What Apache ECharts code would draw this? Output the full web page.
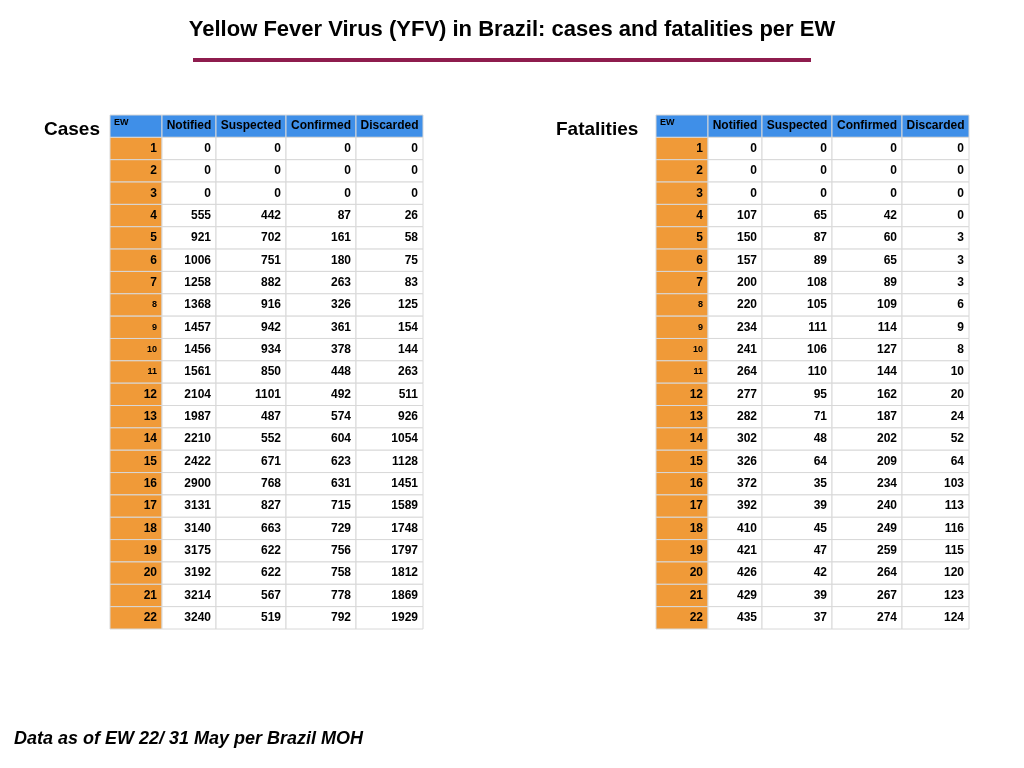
<!DOCTYPE html>
<html><head><meta charset="utf-8">
<script src="https://cdn.jsdelivr.net/npm/echarts@6/dist/echarts.min.js"></script>
<style>html,body{margin:0;background:#fff}#c{width:1024px;height:768px}</style>
</head><body><div id="c"></div>
<script>
const headers = ['EW','Notified','Suspected','Confirmed','Discarded'];
const weeks = [1,2,3,4,5,6,7,8,9,10,11,12,13,14,15,16,17,18,19,20,21,22];
const casesNotified  = [0,0,0,555,921,1006,1258,1368,1457,1456,1561,2104,1987,2210,2422,2900,3131,3140,3175,3192,3214,3240];
const casesSuspected = [0,0,0,442,702,751,882,916,942,934,850,1101,487,552,671,768,827,663,622,622,567,519];
const casesConfirmed = [0,0,0,87,161,180,263,326,361,378,448,492,574,604,623,631,715,729,756,758,778,792];
const casesDiscarded = [0,0,0,26,58,75,83,125,154,144,263,511,926,1054,1128,1451,1589,1748,1797,1812,1869,1929];
const fatNotified  = [0,0,0,107,150,157,200,220,234,241,264,277,282,302,326,372,392,410,421,426,429,435];
const fatSuspected = [0,0,0,65,87,89,108,105,111,106,110,95,71,48,64,35,39,45,47,42,39,37];
const fatConfirmed = [0,0,0,42,60,65,89,109,114,127,144,162,187,202,209,234,240,249,259,264,267,274];
const fatDiscarded = [0,0,0,0,3,3,3,6,9,8,10,20,24,52,64,103,113,116,115,120,123,124];

function cells(cols){
  const d=[];
  headers.forEach((h,c)=>d.push([c,0,h]));
  weeks.forEach((w,r)=>{
    d.push([0,r+1,String(w)]);
    cols.forEach((arr,c)=>d.push([c+1,r+1,String(arr[r])]));
  });
  return d;
}
const edges=[0,52,106,176,246,313];
function render(params,api){
  const c=api.value(0), r=api.value(1), t=params.dataIndex;
  const p0=api.coord([edges[c],r]), p1=api.coord([edges[c+1],r+1]);
  const x=p0[0],y=p0[1],w=p1[0]-p0[0],h=p1[1]-p0[1];
  const txt=api.value(2);
  let fill='#fff';
  if(r===0) fill='#3f8fe8'; else if(c===0) fill='#f09a38';
  const small = (r===0&&c===0) || (c===0 && r>=8 && r<=11);
  return {type:'group',children:[
    {type:'rect',shape:{x,y,width:w,height:h},style:{fill,stroke:'#d8d8d8',lineWidth:1}},
    {type:'text',style:{text:txt,x:(r===0&&c===0)?x+4:(r===0?x+w/2:x+w-5),y:(r===0&&c===0)?y+8:y+h/2,
      align:(r===0&&c===0)?'left':(r===0?'center':'right'),verticalAlign:'middle',
      font:'bold '+(small?'9px':'12px')+' "Liberation Sans", Arial, sans-serif',fill:'#000'}}
  ]};
}
const chart=echarts.init(document.getElementById('c'));
const grids=[{left:110,top:115,width:313,height:514},{left:656,top:115,width:313,height:514}];
chart.setOption({
  animation:false,
  title:{text:'Yellow Fever Virus (YFV) in Brazil: cases and fatalities per EW',left:'center',top:14,
    textStyle:{fontSize:22,fontWeight:'bold',color:'#000',fontFamily:'"Liberation Sans", Arial'}},
  grid:grids,
  xAxis:grids.map((g,i)=>({type:'value',gridIndex:i,min:0,max:313,show:false})),
  yAxis:grids.map((g,i)=>({type:'value',gridIndex:i,min:0,max:23,inverse:true,show:false})),
  graphic:[
    {type:'rect',shape:{x:193,y:58,width:618,height:4},style:{fill:'#8e1c4e'}},
    {type:'text',left:44,top:120,style:{text:'Cases',font:'bold 19px "Liberation Sans", Arial',fill:'#000'}},
    {type:'text',left:556,top:120,style:{text:'Fatalities',font:'bold 19px "Liberation Sans", Arial',fill:'#000'}},
    {type:'text',left:14,top:730,style:{text:'Data as of EW 22/ 31 May per Brazil MOH',font:'italic bold 18px "Liberation Sans", Arial',fill:'#000'}}
  ],
  series:[
    {type:'custom',xAxisIndex:0,yAxisIndex:0,renderItem:render,data:cells([casesNotified,casesSuspected,casesConfirmed,casesDiscarded])},
    {type:'custom',xAxisIndex:1,yAxisIndex:1,renderItem:render,data:cells([fatNotified,fatSuspected,fatConfirmed,fatDiscarded])}
  ]
});
</script></body></html>
